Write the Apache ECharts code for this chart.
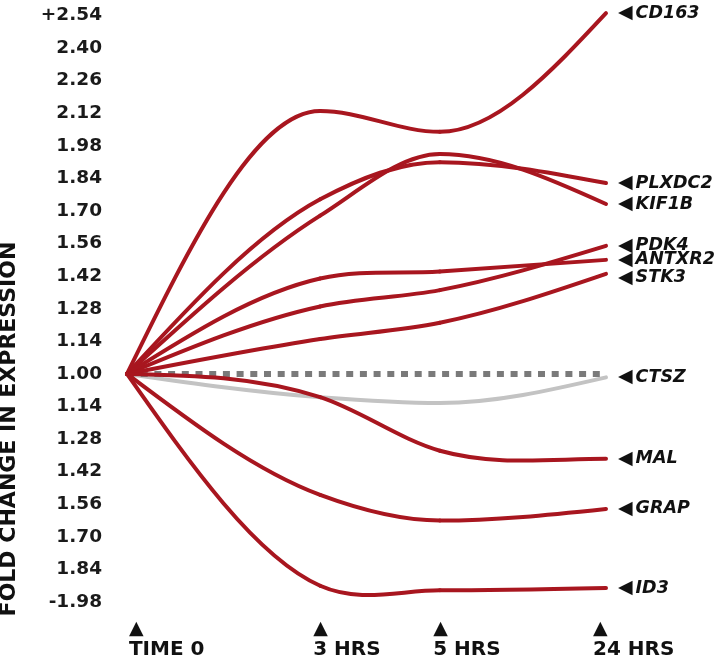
<!DOCTYPE html>
<html><head><meta charset="utf-8">
<script src="https://cdn.jsdelivr.net/npm/echarts@6/dist/echarts.min.js"></script>
<style>html,body{margin:0;padding:0;background:#fff}#c{width:721px;height:660px}</style>
</head><body><div id="c"></div>
<script>
// ---- data ----
const timeLabels = ['TIME 0', '3 HRS', '5 HRS', '24 HRS'];
// ordinal (unevenly spaced) slot of each time point on the horizontal axis
const timeSlots = [0, 1, 1.62, 2.48];
// where the time tick marks (triangles + text) sit on that axis
const labelSlots = [0.01, 0.964, 1.585, 2.413];
// y tick labels, bottom to top (signed fold change)
const yTickLabels = ['-1.98','1.84','1.70','1.56','1.42','1.28','1.14','1.00','1.14','1.28','1.42','1.56','1.70','1.84','1.98','2.12','2.26','2.40','+2.54'];
const yStep = 0.14;
const yMinSteps = 7;

// signed fold change at TIME 0, 3 HRS, 5 HRS, 24 HRS
const CD163  = [1.00, 2.13, 2.04, 2.55];
const PLXDC2 = [1.00, 1.75, 1.91, 1.82];
const KIF1B  = [1.00, 1.68, 1.945, 1.73];
const PDK4   = [1.00, 1.29, 1.36, 1.55];
const ANTXR2 = [1.00, 1.41, 1.44, 1.49];
const STK3   = [1.00, 1.15, 1.22, 1.43];
const CTSZ   = [1.00, -1.10, -1.125, -1.015];
const MAL    = [1.00, -1.10, -1.33, -1.365];
const GRAP   = [1.00, -1.52, -1.63, -1.58];
const ID3    = [1.00, -1.91, -1.93, -1.92];
const BASELINE = [1.00, 1.00, 1.00, 1.00];

const redGenes = [['CD163', CD163], ['PLXDC2', PLXDC2], ['KIF1B', KIF1B], ['PDK4', PDK4], ['ANTXR2', ANTXR2], ['STK3', STK3], ['MAL', MAL], ['GRAP', GRAP], ['ID3', ID3]];

// ---- helpers ----
const toAxis = f => (f >= 1 ? f - 1 : f + 1);
const pts = arr => arr.map((f, i) => [timeSlots[i], toAxis(f)]);
const RED = '#a8161f';
const GREY = '#c3c3c3';
const FONT = 'DejaVu Sans';

const endRich = {
  a: { fontFamily: FONT, fontSize: 19, fill: '#111', color: '#111', padding: [0, 3, 0, 0] },
  b: { fontFamily: FONT, fontSize: 17.5, fontWeight: 'bold', fontStyle: 'italic', fill: '#111', color: '#111' }
};

// cubic Hermite tangents (pixel space): 3-point slope, flat at local extrema
function tangents(P) {
  const n = P.length, h = [], s = [], t = [];
  for (let i = 0; i < n - 1; i++) { h[i] = P[i + 1][0] - P[i][0]; s[i] = (P[i + 1][1] - P[i][1]) / h[i]; }
  for (let i = 1; i < n - 1; i++) {
    const p = (s[i - 1] * h[i] + s[i] * h[i - 1]) / (h[i - 1] + h[i]);
    t[i] = Math.sign(s[i - 1]) === Math.sign(s[i]) ? p : 0;
  }
  t[0] = (3 * s[0] - t[1]) / 2;
  t[n - 1] = (3 * s[n - 2] - t[n - 2]) / 2;
  if (Math.sign(t[0]) !== Math.sign(s[0])) t[0] = 0;
  if (Math.sign(t[n - 1]) !== Math.sign(s[n - 2])) t[n - 1] = 0;
  return t;
}

function curveSeries(name, arr, color, z, labelDy) {
  return {
    type: 'custom', name, coordinateSystem: 'cartesian2d', z, silent: true, clip: false,
    data: pts(arr), encode: { x: 0, y: 1 },
    renderItem: (params, api) => {
      if (params.dataIndex !== 0) return null;
      const P = pts(arr).map(p => api.coord(p));
      const t = tangents(P);
      const children = [];
      for (let i = 0; i < P.length - 1; i++) {
        const dx = (P[i + 1][0] - P[i][0]) / 3;
        children.push({
          type: 'bezierCurve',
          shape: { x1: P[i][0], y1: P[i][1], cpx1: P[i][0] + dx, cpy1: P[i][1] + dx * t[i],
                   cpx2: P[i + 1][0] - dx, cpy2: P[i + 1][1] - dx * t[i + 1], x2: P[i + 1][0], y2: P[i + 1][1] },
          style: { stroke: color, lineWidth: 4, fill: null, lineCap: 'round' }
        });
      }
      const last = P[P.length - 1];
      children.push({
        type: 'text', x: last[0] + 12, y: last[1] + (labelDy || 0),
        style: { text: '{a|◀}{b|' + name + '}', rich: endRich, align: 'left', verticalAlign: 'middle' }
      });
      return { type: 'group', children };
    }
  };
}

const series = [];
series.push(curveSeries('CTSZ', CTSZ, GREY, 1, 0));
series.push({
  name: 'baseline', type: 'line', data: pts(BASELINE), smooth: false, symbol: 'none', clip: false, z: 2,
  lineStyle: { color: '#7a7a7a', width: 6, type: [7, 6.7] }, silent: true
});
redGenes.forEach(([name, arr]) => {
  series.push(curveSeries(name, arr, RED, 3, name === 'STK3' ? 4 : 0));
});

const chart = echarts.init(document.getElementById('c'), null, { renderer: 'canvas' });
chart.setOption({
  animation: false,
  backgroundColor: '#fff',
  grid: { left: 127, right: 115, top: 15.5, bottom: 58, containLabel: false },
  xAxis: {
    type: 'value', min: 0, max: timeSlots[timeSlots.length - 1],
    axisLine: { show: false }, axisTick: { show: false }, splitLine: { show: false },
    axisLabel: {
      customValues: labelSlots, align: 'left', margin: 17,
      formatter: v => {
        let best = 0;
        labelSlots.forEach((s, i) => { if (Math.abs(s - v) < Math.abs(labelSlots[best] - v)) best = i; });
        return '{t|▲}\n{s|' + timeLabels[best] + '}';
      },
      rich: {
        t: { fontFamily: FONT, fontSize: 19, lineHeight: 20, color: '#111', align: 'left' },
        s: { fontFamily: FONT, fontSize: 20, fontWeight: 'bold', lineHeight: 22, color: '#111', align: 'left' }
      }
    }
  },
  yAxis: {
    type: 'value', min: -yMinSteps * yStep, max: (yTickLabels.length - 1 - yMinSteps) * yStep, interval: yStep,
    axisLine: { show: false }, axisTick: { show: false }, splitLine: { show: false },
    axisLabel: {
      margin: 25, fontFamily: FONT, fontWeight: 'bold', fontSize: 18.5, color: '#1a1a1a',
      formatter: v => yTickLabels[Math.round(v / yStep) + yMinSteps] || ''
    }
  },
  graphic: [{
    type: 'text', x: 9.5, y: 429, rotation: Math.PI / 2,
    style: { text: 'FOLD CHANGE IN EXPRESSION', font: 'bold 22px "DejaVu Sans"', fill: '#111', align: 'center', verticalAlign: 'middle' }
  }],
  series
});
</script>
</body></html>
